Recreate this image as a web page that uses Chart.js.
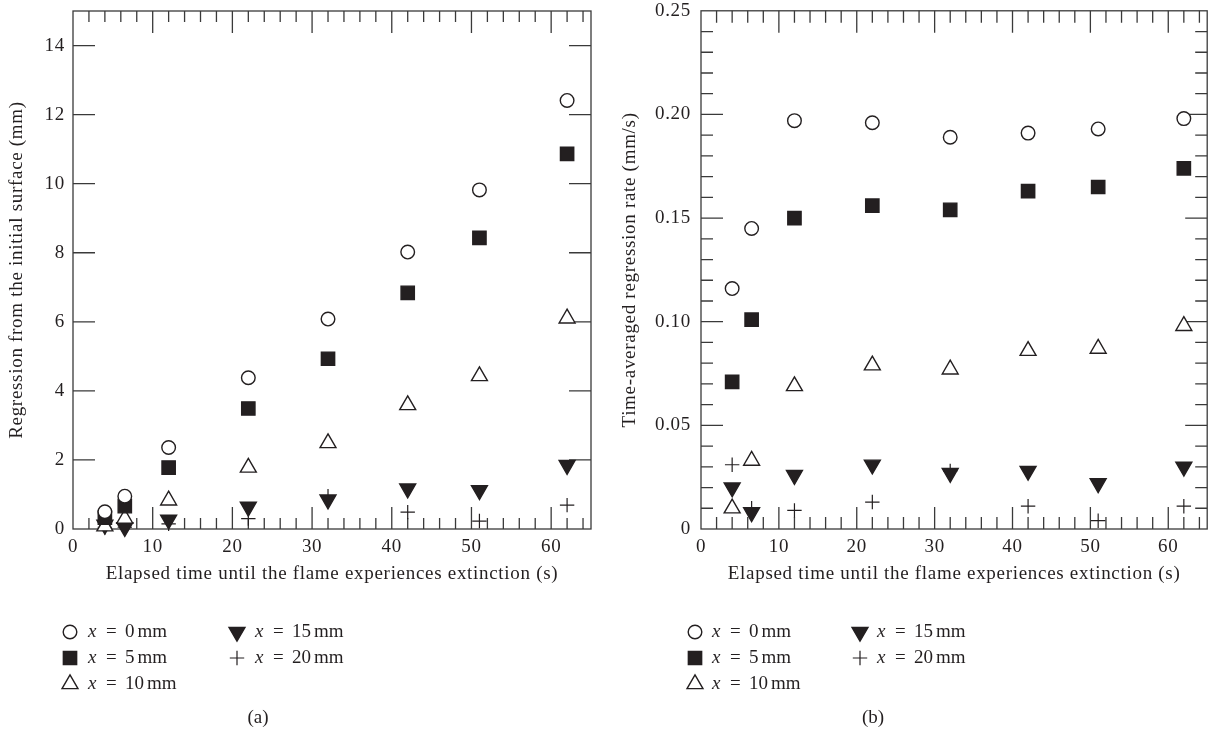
<!DOCTYPE html>
<html><head><meta charset="utf-8">
<script src="https://cdn.jsdelivr.net/npm/chart.js@4.4.0/dist/chart.umd.min.js"></script>
<style>
html,body{margin:0;padding:0;background:#fff;}
#wrap{position:relative;width:1218px;height:735px;overflow:hidden;}
.cv{position:absolute;top:0;}
</style></head><body>
<div id="wrap">
<canvas id="ca" class="cv" width="609" height="735" style="left:0"></canvas>
<canvas id="cb" class="cv" width="609" height="735" style="left:609px"></canvas>
</div>
<script>
// ---------- data ----------
const elapsedTime = [4, 6.5, 12, 22, 32, 42, 51, 62];
const seriesLabels = ['0', '5', '10', '15', '20'];

// (a) regression from the initial surface (mm)
const regression_x0  = [0.50, 0.95, 2.36, 4.38, 6.08, 8.02, 9.82, 12.41];
const regression_x5  = [0.33, 0.66, 1.78, 3.49, 4.93, 6.84, 8.43, 10.86];
const regression_x10 = [0.08, 0.30, 0.83, 1.78, 2.49, 3.59, 4.43, 6.10];
const regression_x15 = [0.12, 0.05, 0.27, 0.64, 0.85, 1.17, 1.12, 1.85];
const regression_x20 = [0.05, 0.05, 0.15, 0.30, 0.95, 0.49, 0.23, 0.69];

// (b) time-averaged regression rate (mm/s)
const rate_x0  = [0.116, 0.145, 0.197, 0.196, 0.189, 0.191, 0.193, 0.198];
const rate_x5  = [0.071, 0.101, 0.150, 0.156, 0.154, 0.163, 0.165, 0.174];
const rate_x10 = [0.010, 0.033, 0.069, 0.079, 0.077, 0.086, 0.087, 0.098];
const rate_x15 = [0.020, 0.008, 0.026, 0.031, 0.027, 0.028, 0.022, 0.030];
const rate_x20 = [0.031, 0.010, 0.009, 0.013, 0.028, 0.011, 0.004, 0.011];

const xTickValues = [0, 10, 20, 30, 40, 50, 60];
const yTicksA = [0, 2, 4, 6, 8, 10, 12, 14];
const yTicksB = [0, 0.05, 0.10, 0.15, 0.20, 0.25];

// ---------- styling ----------
const F = "'Liberation Serif', 'DejaVu Serif', serif";
const FS = 19;
const INK = '#231f20';
const AX = '#3a3a3a';
const markerStyles = [
  {pointStyle: 'circle', radius: 6.8, rotation: 0, fill: '#ffffff'},
  {pointStyle: 'rect', radius: 9.4, rotation: 0, fill: INK},
  {pointStyle: 'triangle', radius: 9.2, rotation: 0, fill: '#ffffff'},
  {pointStyle: 'triangle', radius: 9.2, rotation: 180, fill: INK},
  {pointStyle: 'cross', radius: 7.2, rotation: 0, fill: INK}
];

function pts(ys) { return elapsedTime.map((x, i) => ({x: x, y: ys[i]})); }

function buildDatasets(arrays) {
  return arrays.map((ys, i) => ({
    label: 'x = ' + seriesLabels[i] + ' mm',
    data: pts(ys),
    pointStyle: markerStyles[i].pointStyle,
    pointRadius: markerStyles[i].radius,
    pointRotation: markerStyles[i].rotation,
    pointBackgroundColor: markerStyles[i].fill,
    pointBorderColor: INK,
    pointBorderWidth: markerStyles[i].pointStyle === 'cross' ? 1.2 : 1.4,
    showLine: false,
    clip: false
  }));
}

// ---------- custom marker for legend ----------
function drawMarker(ctx, st, x, y) {
  ctx.save();
  ctx.strokeStyle = INK; ctx.fillStyle = st.fill;
  ctx.lineWidth = st.pointStyle === 'cross' ? 1.2 : 1.4;
  const r = st.radius;
  ctx.beginPath();
  if (st.pointStyle === 'circle') {
    ctx.arc(x, y, r, 0, Math.PI * 2); ctx.fill(); ctx.stroke();
  } else if (st.pointStyle === 'rect') {
    const s = Math.SQRT1_2 * r;
    ctx.rect(x - s, y - s, 2 * s, 2 * s); ctx.fill(); ctx.stroke();
  } else if (st.pointStyle === 'triangle') {
    let rad = st.rotation * Math.PI / 180;
    ctx.moveTo(x + Math.sin(rad) * r, y - Math.cos(rad) * r);
    rad += 2 * Math.PI / 3;
    ctx.lineTo(x + Math.sin(rad) * r, y - Math.cos(rad) * r);
    rad += 2 * Math.PI / 3;
    ctx.lineTo(x + Math.sin(rad) * r, y - Math.cos(rad) * r);
    ctx.closePath(); ctx.fill(); ctx.stroke();
  } else if (st.pointStyle === 'cross') {
    ctx.moveTo(x - r, y); ctx.lineTo(x + r, y);
    ctx.moveTo(x, y - r); ctx.lineTo(x, y + r); ctx.stroke();
  }
  ctx.restore();
}

// ---------- plugins ----------
const spacing = {
  id: 'spacing',
  beforeLayout(chart) { chart.ctx.letterSpacing = '0.7px'; },
  beforeDraw(chart) { chart.ctx.letterSpacing = '0.7px'; }
};

const frameTicks = {
  id: 'frameTicks',
  beforeDatasetsDraw(chart, args, o) {
    const ctx = chart.ctx, a = chart.chartArea;
    const xs = chart.scales.x, ys = chart.scales.y;
    ctx.save();
    ctx.strokeStyle = AX; ctx.lineWidth = 1.3;
    ctx.strokeRect(a.left, a.top, a.right - a.left, a.bottom - a.top);
    ctx.beginPath();
    const nx = Math.round((xs.max - xs.min) / o.xStep);
    for (let i = 1; i <= nx; i++) {
      const v = xs.min + i * o.xStep;
      if (v >= xs.max - 1e-9) break;
      const px = xs.getPixelForValue(v);
      const len = (i % o.xMajorEvery === 0) ? o.major : o.minor;
      ctx.moveTo(px, a.bottom); ctx.lineTo(px, a.bottom - len);
      ctx.moveTo(px, a.top); ctx.lineTo(px, a.top + len);
    }
    const ny = Math.round((ys.max - ys.min) / o.yStep);
    for (let i = 1; i < ny; i++) {
      const v = ys.min + i * o.yStep;
      const py = ys.getPixelForValue(v);
      const len = (i % o.yMajorEvery === 0) ? o.major : o.minor;
      ctx.moveTo(a.left, py); ctx.lineTo(a.left + len, py);
      ctx.moveTo(a.right, py); ctx.lineTo(a.right - len, py);
    }
    ctx.stroke();
    ctx.restore();
  }
};

const legendCaption = {
  id: 'legendCaption',
  afterDraw(chart, args, o) {
    const ctx = chart.ctx;
    ctx.save();
    ctx.letterSpacing = '0px';
    ctx.textBaseline = 'middle';
    ctx.fillStyle = INK;
    const rows = [o.row0, o.row0 + o.rowGap, o.row0 + 2 * o.rowGap];
    const place = [[0,0],[0,1],[0,2],[1,0],[1,1]];
    seriesLabels.forEach((lab, i) => {
      const col = place[i][0], row = place[i][1];
      const mx = col === 0 ? o.col0Marker : o.col1Marker;
      const tx = col === 0 ? o.col0Text : o.col1Text;
      const y = rows[row];
      drawMarker(ctx, markerStyles[i], mx, y);
      ctx.textAlign = 'left';
      ctx.font = 'italic ' + FS + 'px ' + F;
      ctx.fillText('x', tx, y);
      ctx.font = FS + 'px ' + F;
      ctx.fillText('=', tx + 18, y);
      ctx.fillText(lab, tx + 37, y);
      const w = ctx.measureText(lab).width;
      ctx.fillText('mm', tx + 37 + w + 3, y);
    });
    ctx.font = FS + 'px ' + F;
    ctx.textAlign = 'center';
    ctx.fillText(o.caption, o.capX, o.capY);
    ctx.restore();
  }
};

function makeChart(id, arrays, cfg) {
  return new Chart(document.getElementById(id), {
    type: 'scatter',
    data: {datasets: buildDatasets(arrays)},
    options: {
      responsive: false, animation: false, devicePixelRatio: 1,
      layout: {padding: {left: 0, top: cfg.top, right: cfg.right, bottom: cfg.bottom}},
      plugins: {
        legend: {display: false}, tooltip: {enabled: false},
        frameTicks: cfg.ticks, legendCaption: cfg.legend
      },
      scales: {
        x: {
          type: 'linear', min: 0, max: 65, position: 'bottom',
          grid: {display: false, drawTicks: false}, border: {display: false},
          afterBuildTicks(s) { s.ticks = xTickValues.map(v => ({value: v})); },
          ticks: {color: INK, font: {family: F, size: FS}, padding: 7, maxRotation: 0, autoSkip: false},
          title: {display: true, text: 'Elapsed time until the flame experiences extinction (s)', color: INK,
                  font: {family: F, size: FS}, padding: {top: 0, bottom: 0}},
          afterFit(s) { s.height = cfg.xh; s.paddingLeft = 0; s.paddingRight = 0; }
        },
        y: {
          type: 'linear', min: cfg.yMin, max: cfg.yMax, position: 'left',
          grid: {display: false, drawTicks: false}, border: {display: false},
          afterBuildTicks(s) { s.ticks = cfg.yTicks.map(v => ({value: v})); },
          ticks: {color: INK, font: {family: F, size: FS}, padding: cfg.yPad, autoSkip: false, callback: cfg.yFmt},
          title: {display: true, text: cfg.yTitle, color: INK,
                  font: {family: F, size: FS}, padding: {top: cfg.yTitlePad, bottom: 0}},
          afterFit(s) { s.width = cfg.yw; s.paddingTop = 0; s.paddingBottom = 0; }
        }
      }
    },
    plugins: [spacing, frameTicks, legendCaption]
  });
}

makeChart('ca', [regression_x0, regression_x5, regression_x10, regression_x15, regression_x20], {
  top: 11, right: 18, bottom: 150, xh: 56, yw: 73, yPad: 8, yTitlePad: 6,
  yMin: 0, yMax: 15, yTicks: yTicksA,
  yFmt: v => String(v),
  yTitle: 'Regression from the initial surface (mm)',
  ticks: {xStep: 2, xMajorEvery: 5, yStep: 2, yMajorEvery: 1, major: 22, minor: 11},
  legend: {row0: 632, rowGap: 26, col0Marker: 70, col0Text: 88, col1Marker: 237, col1Text: 255,
           caption: '(a)', capX: 258, capY: 718}
});

makeChart('cb', [rate_x0, rate_x5, rate_x10, rate_x15, rate_x20], {
  top: 10, right: 2, bottom: 150, xh: 56, yw: 92, yPad: 10, yTitlePad: 10,
  yMin: 0, yMax: 0.25, yTicks: yTicksB,
  yFmt: v => (Math.abs(v) < 1e-9 ? '0' : v.toFixed(2)),
  yTitle: 'Time-averaged regression rate (mm/s)',
  ticks: {xStep: 2, xMajorEvery: 5, yStep: 0.01, yMajorEvery: 5, major: 22, minor: 12},
  legend: {row0: 632, rowGap: 26, col0Marker: 86, col0Text: 103, col1Marker: 251, col1Text: 268,
           caption: '(b)', capX: 264, capY: 718}
});
</script>
</body></html>
